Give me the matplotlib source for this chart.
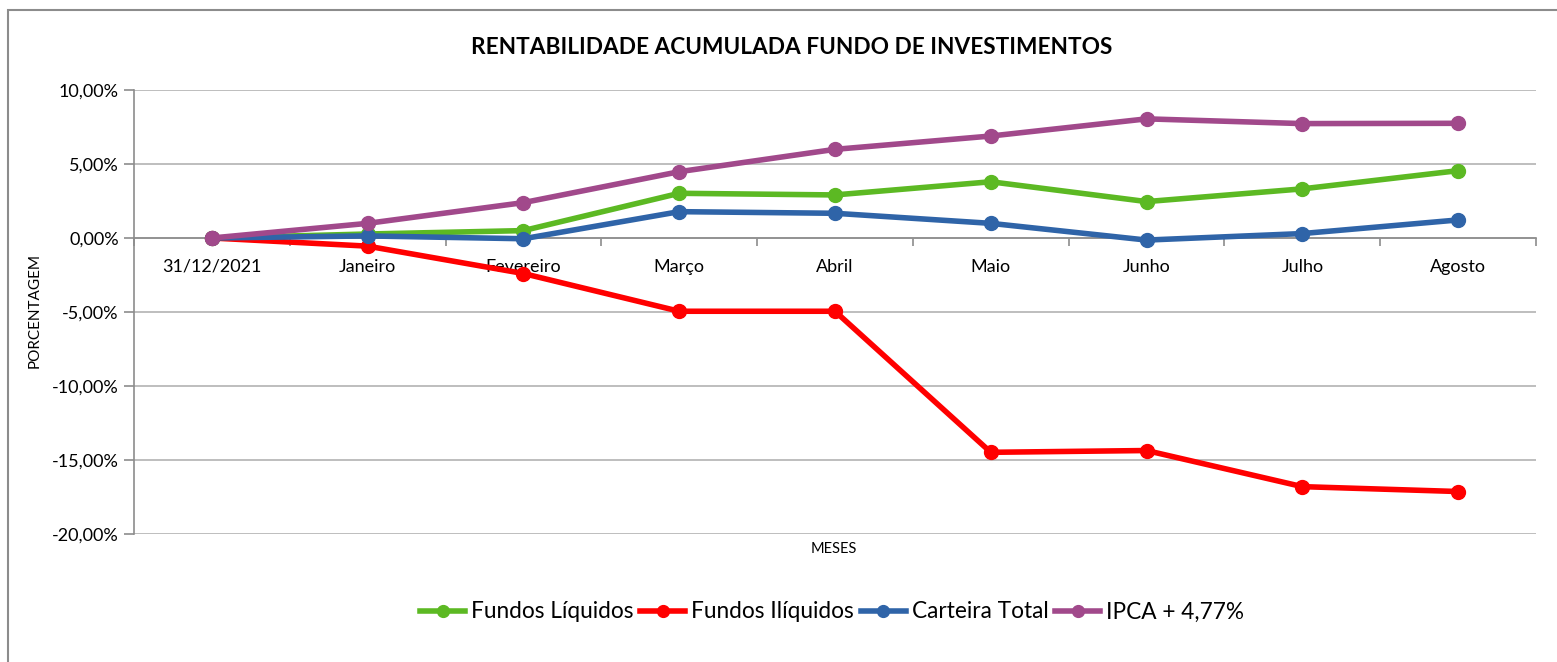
import numpy as np
import matplotlib
matplotlib.use("Agg")
import matplotlib.pyplot as plt
from matplotlib.ticker import FuncFormatter, FixedLocator
from matplotlib.patches import Rectangle

plt.rcParams['font.family'] = ['Lato', 'DejaVu Sans']

# --- DATA ---
meses = ['31/12/2021', 'Janeiro', 'Fevereiro', 'Março', 'Abril',
         'Maio', 'Junho', 'Julho', 'Agosto']
fundos_liquidos = [0.00, 0.27, 0.50, 3.02, 2.91, 3.80, 2.46, 3.32, 4.55]
fundos_iliquidos = [0.00, -0.55, -2.40, -4.95, -4.95, -14.48, -14.36, -16.80, -17.13]
carteira_total = [0.00, 0.14, -0.05, 1.78, 1.67, 0.99, -0.14, 0.30, 1.22]
ipca = [0.00, 0.99, 2.39, 4.48, 5.99, 6.89, 8.05, 7.73, 7.75]

series = [
    ('Fundos Líquidos', fundos_liquidos, '#5cb923'),
    ('Fundos Ilíquidos', fundos_iliquidos, '#ff0000'),
    ('Carteira Total', carteira_total, '#2f64a8'),
    ('IPCA + 4,77%', ipca, '#a1498b'),
]

# --- PLOT ---
W, H = 1557, 662
fig = plt.figure(figsize=(W / 100, H / 100), dpi=100)
ax = fig.add_axes([134 / W, 1 - 534 / H, (1536 - 134) / W, (534 - 90) / H])

x = np.arange(len(meses))
for nome, vals, cor in series:
    ax.plot(x, vals, color=cor, lw=4.0, marker='o', ms=10,
            solid_joinstyle='round', label=nome, zorder=3)

ax.set_xlim(-0.5, len(meses) - 0.5)
ax.set_ylim(-20, 10)
ax.set_yticks(np.arange(-20, 10.1, 5))
ax.yaxis.set_major_formatter(FuncFormatter(lambda v, p: f'{v:.2f}%'.replace('.', ',')))
ax.grid(axis='y', color='#b3b3b3', lw=1.2)
ax.set_axisbelow(True)

ax.set_xticks(x)
ax.set_xticklabels(meses)
ax.xaxis.set_minor_locator(FixedLocator(np.arange(-0.5, len(meses), 1.0)))
ax.tick_params(axis='x', which='major', length=0, pad=15, labelsize=13)
ax.tick_params(axis='x', which='minor', length=6, color='#8c8c8c', width=1.2)
ax.tick_params(axis='y', length=7, color='#8c8c8c', width=1.2, labelsize=13, pad=4)

for s in ['top', 'right']:
    ax.spines[s].set_visible(False)
ax.spines['bottom'].set_position(('data', 0))
ax.spines['bottom'].set_color('#8c8c8c')
ax.spines['bottom'].set_linewidth(1.2)
ax.spines['left'].set_color('#8c8c8c')
ax.spines['left'].set_linewidth(1.2)

fig.text(792 / W, 1 - 47 / H, 'RENTABILIDADE ACUMULADA FUNDO DE INVESTIMENTOS',
         ha='center', va='center', fontsize=16.3, fontweight='bold')
fig.text(834 / W, 1 - 549 / H, 'MESES', ha='center', va='center', fontsize=10.5)
fig.text(35 / W, 1 - 310 / H, 'PORCENTAGEM', ha='center', va='center',
         rotation=90, fontsize=11)

fig.legend(loc='center', bbox_to_anchor=(832 / W, 1 - 612 / H), ncol=4,
           frameon=False, fontsize=16.3, handlelength=2.0, handletextpad=0.25,
           columnspacing=0.3, markerscale=0.85)

fig.patches.append(Rectangle((8 / W, -0.1), 1.2, 1 - 10 / H + 0.1,
                             transform=fig.transFigure, fill=False,
                             edgecolor='#8c8c8c', lw=1.5))

fig.savefig('out.png', dpi=100)
